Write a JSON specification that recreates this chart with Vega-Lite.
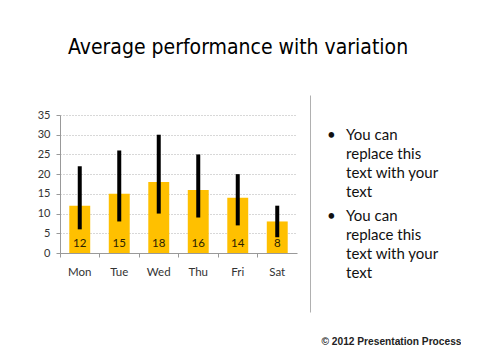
{
  "$schema": "https://vega.github.io/schema/vega-lite/v6.json",
  "padding": {"left": 37, "top": 36, "right": 0, "bottom": 0},
  "title": {
    "text": "Average performance with variation",
    "font": "DejaVu Sans Condensed, sans-serif",
    "fontSize": 21,
    "fontWeight": "normal",
    "color": "#000000",
    "anchor": "middle",
    "dx": -11,
    "offset": 37
  },
  "datasets": {
    "days": [
      {"day": "Mon", "avg": 12, "low": 6, "high": 22},
      {"day": "Tue", "avg": 15, "low": 8, "high": 26},
      {"day": "Wed", "avg": 18, "low": 10, "high": 30},
      {"day": "Thu", "avg": 16, "low": 9, "high": 25},
      {"day": "Fri", "avg": 14, "low": 7, "high": 20},
      {"day": "Sat", "avg": 8, "low": 4, "high": 12}
    ],
    "notes": [
      {"indent": 0, "line": 1, "text": "•"},
      {"indent": 1, "line": 1, "text": "You can"},
      {"indent": 1, "line": 2, "text": "replace this"},
      {"indent": 1, "line": 3, "text": "text with your"},
      {"indent": 1, "line": 4, "text": "text"},
      {"indent": 0, "line": 5.26, "text": "•"},
      {"indent": 1, "line": 5.26, "text": "You can"},
      {"indent": 1, "line": 6.26, "text": "replace this"},
      {"indent": 1, "line": 7.26, "text": "text with your"},
      {"indent": 1, "line": 8.26, "text": "text"}
    ]
  },
  "spacing": 13,
  "hconcat": [
    {
      "spacing": 13,
      "vconcat": [
        {
          "width": 237,
          "height": 1,
          "data": {"values": [{}]},
          "mark": {"type": "rule", "opacity": 0},
          "encoding": {}
        },
        {
          "width": 237,
          "height": 138,
          "data": {"name": "days"},
          "layer": [
            {
              "mark": {"type": "bar", "color": "#FFC000", "width": {"band": 0.53}},
              "encoding": {
                "x": {
                  "field": "day",
                  "type": "nominal",
                  "sort": null,
                  "scale": {"paddingInner": 0, "paddingOuter": 0},
                  "axis": {
                    "orient": "bottom",
                    "title": null,
                    "labelAngle": 0,
                    "ticks": false,
                    "labelPadding": 13,
                    "labelFont": "Lato",
                    "labelFontSize": 11.5,
                    "labelColor": "#333333",
                    "domainColor": "#999999",
                    "grid": false
                  }
                },
                "y": {
                  "field": "avg",
                  "type": "quantitative",
                  "scale": {"domain": [0, 35], "nice": false},
                  "axis": {
                    "title": null,
                    "values": [0, 5, 10, 15, 20, 25, 30, 35],
                    "labelFont": "Lato",
                    "labelFontSize": 11,
                    "labelColor": "#333333",
                    "labelPadding": 6,
                    "tickSize": 4,
                    "tickColor": "#999999",
                    "domainColor": "#999999",
                    "gridColor": "#b0b0b0",
                    "gridDash": [1, 2]
                  }
                }
              }
            },
            {
              "mark": {"type": "rule", "strokeWidth": 4, "color": "#000000"},
              "encoding": {
                "x": {
                  "field": "day",
                  "type": "nominal",
                  "sort": null,
                  "axis": {
                    "orient": "bottom",
                    "title": null,
                    "labels": false,
                    "domain": false,
                    "grid": false,
                    "ticks": true,
                    "tickSize": 4,
                    "tickColor": "#999999",
                    "bandPosition": 0
                  }
                },
                "y": {
                  "field": "low",
                  "type": "quantitative",
                  "axis": {
                    "title": null,
                    "values": [0, 5, 10, 15, 20, 25, 30, 35],
                    "labelFont": "Lato",
                    "labelFontSize": 11,
                    "labelColor": "#333333",
                    "labelPadding": 6,
                    "tickSize": 4,
                    "tickColor": "#999999",
                    "domainColor": "#999999",
                    "gridColor": "#b0b0b0",
                    "gridDash": [1, 2]
                  }
                },
                "y2": {"field": "high"}
              }
            },
            {
              "mark": {
                "type": "text",
                "baseline": "middle",
                "dy": -9,
                "font": "Lato",
                "fontSize": 11.5,
                "color": "#2a2200"
              },
              "encoding": {
                "x": {"field": "day", "type": "nominal", "sort": null, "axis": null},
                "y": {
                  "datum": 0,
                  "type": "quantitative",
                  "axis": {
                    "title": null,
                    "values": [0, 5, 10, 15, 20, 25, 30, 35],
                    "labelFont": "Lato",
                    "labelFontSize": 11,
                    "labelColor": "#333333",
                    "labelPadding": 6,
                    "tickSize": 4,
                    "tickColor": "#999999",
                    "domainColor": "#999999",
                    "gridColor": "#b0b0b0",
                    "gridDash": [1, 2]
                  }
                },
                "text": {"field": "avg", "type": "quantitative"}
              }
            }
          ],
          "resolve": {"axis": {"x": "independent"}}
        }
      ]
    },
    {
      "width": 151,
      "height": 217,
      "data": {"name": "notes"},
      "mark": {
        "type": "text",
        "align": "left",
        "baseline": "middle",
        "font": "Lato",
        "fontSize": 15,
        "color": "#111111"
      },
      "encoding": {
        "x": {
          "field": "indent",
          "type": "quantitative",
          "scale": {"domain": [-0.9, 7.047], "nice": false, "zero": false},
          "axis": {
            "title": "© 2012 Presentation Process",
            "titleFont": "Liberation Sans",
            "titleFontWeight": "bold",
            "titleFontSize": 10.2,
            "titleColor": "#222222",
            "titleAnchor": "end",
            "titlePadding": 24,
            "domain": false,
            "ticks": false,
            "labels": false,
            "grid": false
          }
        },
        "y": {
          "field": "line",
          "type": "quantitative",
          "scale": {"domain": [-1.1, 10.32], "nice": false, "zero": false, "reverse": true},
          "axis": {
            "title": null,
            "domain": true,
            "domainColor": "#b0b0b0",
            "ticks": false,
            "labels": false,
            "grid": false
          }
        },
        "text": {"field": "text", "type": "nominal"}
      }
    }
  ],
  "config": {"view": {"stroke": null}, "font": "Lato"}
}
